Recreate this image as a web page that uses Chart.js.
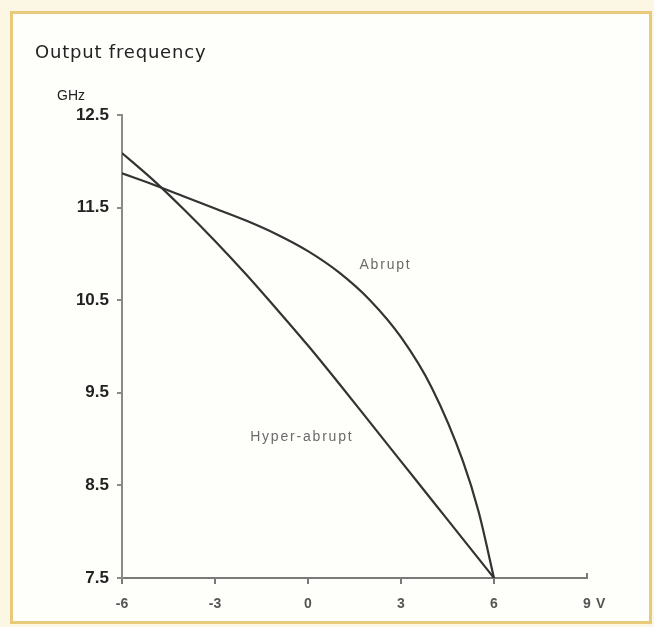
<!DOCTYPE html>
<html>
<head>
<meta charset="utf-8">
<script src="https://cdn.jsdelivr.net/npm/chart.js@4.4.1/dist/chart.umd.min.js"></script>
<style>
  body { margin: 0; background: #fcf6e4; }
  #frame {
    position: absolute; left: 10px; top: 11px; width: 636px; height: 607px;
    border: 3px solid #e9c97a; background: #fefefb;
  }
  #plot { position: absolute; left: 0; top: 0; }
</style>
</head>
<body>
<div id="frame"></div>
<canvas id="plot" width="654" height="627"></canvas>
<script>
// bias voltage (V) and output frequency (GHz) for the two varactor profiles
const abruptVolts = [-6, -5, -4, -3, -2, -1, 0, 1, 2, 3, 4, 5, 5.5, 6];
const abruptFreq = [11.87, 11.75, 11.62, 11.49, 11.36, 11.21, 11.03, 10.8, 10.5, 10.1, 9.55, 8.76, 8.22, 7.5];
const hyperVolts = [-6, -5, -4, -3, -2, -1, 0, 1, 2, 3, 4, 5, 6];
const hyperFreq = [12.09, 11.8, 11.48, 11.14, 10.78, 10.4, 10.01, 9.6, 9.18, 8.76, 8.34, 7.92, 7.5];

const voltTicks = [-6, -3, 0, 3, 6, 9];
const freqTicks = [7.5, 8.5, 9.5, 10.5, 11.5, 12.5];

const curveLabels = [
  { text: "Abrupt", x: 2.5, y: 10.88 },
  { text: "Hyper-abrupt", x: -0.2, y: 9.02 },
];

const toPoints = (xs, ys) => xs.map((x, i) => ({ x: x, y: ys[i] }));

const lineStyle = {
  borderColor: "#333",
  borderWidth: 2.2,
  pointRadius: 0,
  fill: false,
  cubicInterpolationMode: "monotone",
};

// axis titles, unit and curve names
const notes = {
  id: "notes",
  afterDraw(chart) {
    const ctx = chart.ctx;
    const xs = chart.scales.x, ys = chart.scales.y;
    ctx.save();
    ctx.fillStyle = "#222";
    ctx.textBaseline = "middle";
    ctx.textAlign = "left";
    ctx.font = "18px 'DejaVu Sans', sans-serif";
    ctx.letterSpacing = "0.8px";
    ctx.fillText("Output frequency", 35, 53);
    ctx.font = "14px 'Liberation Sans', Arial, sans-serif";
    ctx.letterSpacing = "0px";
    ctx.fillText("GHz", 57, 96);
    ctx.fillStyle = "#555";
    ctx.font = "bold 14px 'Liberation Sans', Arial, sans-serif";
    ctx.fillText("V", xs.getPixelForValue(9) + 9, 604);
    // short upward tick closing the voltage axis
    ctx.strokeStyle = "#7a7a7a";
    ctx.lineWidth = 2;
    ctx.beginPath();
    ctx.moveTo(xs.getPixelForValue(9), ys.bottom);
    ctx.lineTo(xs.getPixelForValue(9), ys.bottom - 5);
    ctx.stroke();
    ctx.fillStyle = "#6a6a6a";
    ctx.textAlign = "center";
    ctx.font = "14px 'Liberation Sans', Arial, sans-serif";
    ctx.letterSpacing = "1.8px";
    curveLabels.forEach(l => {
      ctx.fillText(l.text, xs.getPixelForValue(l.x), ys.getPixelForValue(l.y));
    });
    ctx.restore();
  },
};

new Chart(document.getElementById("plot"), {
  type: "line",
  data: {
    datasets: [
      Object.assign({ label: "Abrupt", data: toPoints(abruptVolts, abruptFreq) }, lineStyle),
      Object.assign({ label: "Hyper-abrupt", data: toPoints(hyperVolts, hyperFreq) }, lineStyle),
    ],
  },
  options: {
    responsive: false,
    devicePixelRatio: 1,
    animation: false,
    layout: { padding: { left: 0, top: 115, right: 67, bottom: 19 } },
    plugins: { legend: { display: false }, tooltip: { enabled: false } },
    scales: {
      x: {
        type: "linear",
        min: -6,
        max: 9,
        afterBuildTicks: s => { s.ticks = voltTicks.map(v => ({ value: v })); },
        afterFit: s => { s.height = 30; },
        border: { color: "#7a7a7a", width: 2 },
        grid: {
          drawOnChartArea: false,
          tickLength: 6,
          lineWidth: 2,
          color: ctx => (ctx.tick && ctx.tick.value === 9 ? "rgba(0,0,0,0)" : "#7a7a7a"),
        },
        ticks: {
          color: "#555",
          padding: 12,
          font: { family: "'Liberation Sans', Arial, sans-serif", size: 14, weight: "bold" },
        },
      },
      y: {
        type: "linear",
        min: 7.5,
        max: 12.5,
        afterBuildTicks: s => { s.ticks = freqTicks.map(v => ({ value: v })); },
        afterFit: s => { s.width = 122; },
        border: { color: "#8a8a8a", width: 2 },
        grid: { drawOnChartArea: false, tickLength: 5, color: "#8a8a8a", lineWidth: 2 },
        ticks: {
          color: "#222",
          padding: 8,
          callback: v => v.toFixed(1),
          font: { family: "'Liberation Sans', Arial, sans-serif", size: 17, weight: "bold" },
        },
      },
    },
  },
  plugins: [notes],
});
</script>
</body>
</html>
